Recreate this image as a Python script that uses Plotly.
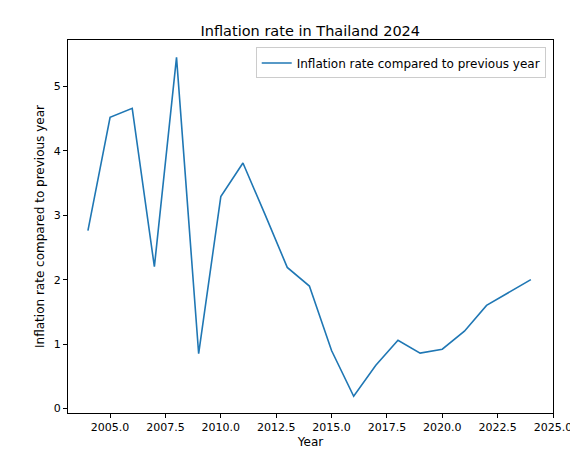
import plotly.graph_objects as go

years = list(range(2004, 2025))
inflation = [2.76, 4.52, 4.66, 2.2, 5.45, 0.85, 3.29, 3.81, 3.01, 2.19, 1.9, 0.9,
             0.19, 0.67, 1.06, 0.86, 0.92, 1.2, 1.6, 1.8, 2.0]

fig = go.Figure()
fig.add_trace(go.Scatter(x=years, y=inflation, mode="lines",
                         line=dict(color="#1f77b4", width=1.6),
                         name="Inflation rate compared to previous year"))

axis = dict(showline=True, linecolor="black", linewidth=1, mirror=True,
            ticks="outside", ticklen=4, tickcolor="black", showgrid=False,
            zeroline=False, automargin=False, tickfont=dict(size=11, color="black"))
fig.update_layout(
    width=578, height=455,
    font=dict(family="DejaVu Sans", size=12, color="black"),
    paper_bgcolor="white", plot_bgcolor="white",
    margin=dict(l=60, r=33, t=32, b=50),
    title=dict(text="Inflation rate in Thailand 2024", x=0.523, xanchor="center",
               y=0.96, font=dict(size=14.5)),
    xaxis=dict(axis, range=[2003.1, 2025], tickvals=[2005 + 2.5 * i for i in range(9)],
               ticktext=["%.1f" % (2005 + 2.5 * i) for i in range(9)],
               title=dict(text="Year", standoff=4, font=dict(size=12))),
    yaxis=dict(axis, range=[-0.07, 5.72], dtick=1,
               title=dict(text="Inflation rate compared to previous year", standoff=6,
                          font=dict(size=12))),
    showlegend=True,
    legend=dict(x=0.985, y=0.98, xanchor="right", yanchor="top",
                bordercolor="#cccccc", borderwidth=1, bgcolor="white",
                font=dict(size=12)),
)
fig.write_html("out.html")
